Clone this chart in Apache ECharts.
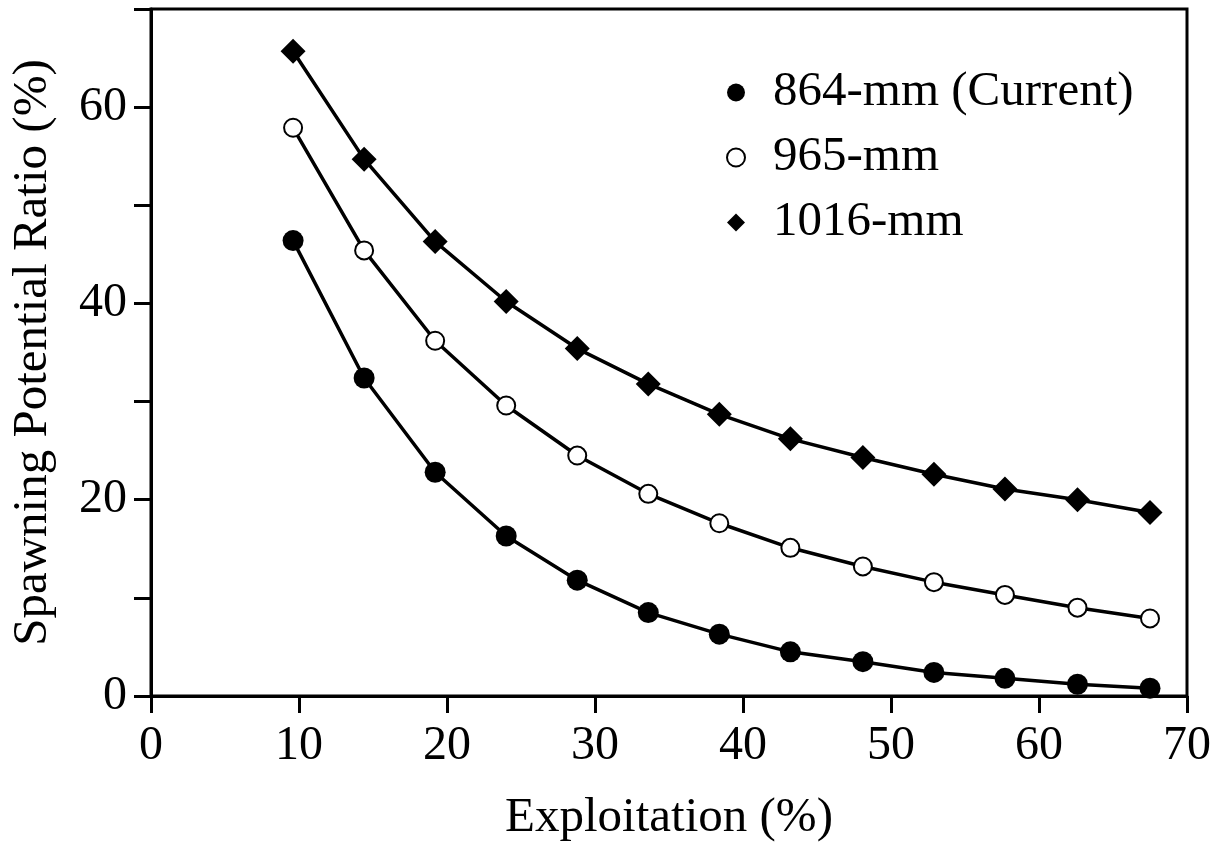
<!DOCTYPE html>
<html>
<head>
<meta charset="utf-8">
<script src="https://cdn.jsdelivr.net/npm/echarts@6/dist/echarts.min.js"></script>
<style>
	html, body { margin: 0; padding: 0; background: #fff; }
	#chart { width: 1230px; height: 856px; }
</style>
</head>
<body>
<div id="chart"></div>
<script>
	'use strict'
	var exploitation = [9.6, 14.4, 19.2, 24.0, 28.8, 33.6, 38.4, 43.2, 48.1, 52.9, 57.7, 62.6, 67.5];
	var spr864 = [46.4, 32.4, 22.8, 16.3, 11.8, 8.5, 6.3, 4.5, 3.5, 2.4, 1.8, 1.2, 0.8];
	var spr965 = [57.9, 45.4, 36.2, 29.6, 24.5, 20.6, 17.6, 15.1, 13.2, 11.6, 10.3, 9.0, 7.9];
	var spr1016 = [65.7, 54.7, 46.3, 40.2, 35.4, 31.8, 28.7, 26.2, 24.3, 22.6, 21.1, 20.0, 18.7];
	var seriesNames = ['864-mm (Current)', '965-mm', '1016-mm'];

	function pairs(ys) {
		return exploitation.map(function(x, i) { return [x, ys[i]]; });
	}

	var font = 'Liberation Serif';
	var chart = echarts.init(document.getElementById('chart'));

	/*-----Spawning potential ratio vs exploitation-----*/
	var option = {
		animation: false,
		backgroundColor: '#fff',
		grid: {
			left: 151,
			right: 43,
			top: 9,
			bottom: 160,
			show: true,
			borderColor: '#000',
			borderWidth: 3
		},
		legend: {
			orient: 'vertical',
			left: 721,
			top: 63,
			itemGap: 16,
			itemWidth: 18,
			itemHeight: 18,
			textStyle: {
				fontFamily: font,
				fontSize: 49,
				color: '#000',
				padding: [0, 0, 0, 23]
			},
			data: [
				{ name: seriesNames[0], icon: 'circle' },
				{ name: seriesNames[1], icon: 'circle' },
				{ name: seriesNames[2], icon: 'diamond' }
			]
		},
		xAxis: {
			type: 'value',
			min: 0,
			max: 70,
			interval: 10,
			name: 'Exploitation (%)',
			nameLocation: 'middle',
			nameGap: 98,
			nameTextStyle: { fontFamily: font, fontSize: 49, color: '#000' },
			axisLine: { lineStyle: { color: '#000', width: 3 } },
			axisTick: { show: true, length: 17, lineStyle: { color: '#000', width: 3 } },
			axisLabel: { fontFamily: font, fontSize: 48, color: '#000', margin: 26 },
			splitLine: { show: false }
		},
		yAxis: {
			type: 'value',
			min: 0,
			max: 70,
			interval: 10,
			name: 'Spawning Potential Ratio (%)',
			nameLocation: 'middle',
			nameGap: 93,
			nameTextStyle: { fontFamily: font, fontSize: 49, color: '#000' },
			axisLine: { lineStyle: { color: '#000', width: 3 } },
			axisTick: { show: true, length: 17, lineStyle: { color: '#000', width: 3 } },
			axisLabel: {
				fontFamily: font,
				fontSize: 48,
				color: '#000',
				margin: 24,
				formatter: function(v) { return v % 20 === 0 && v < 70 ? String(v) : ''; }
			},
			splitLine: { show: false }
		},
		series: [{
			name: seriesNames[0],
			type: 'line',
			data: pairs(spr864),
			symbol: 'circle',
			symbolSize: 21,
			itemStyle: { color: '#000' },
			lineStyle: { color: '#000', width: 3.5 }
		}, {
			name: seriesNames[1],
			type: 'line',
			data: pairs(spr965),
			symbol: 'circle',
			symbolSize: 18,
			itemStyle: { color: '#fff', borderColor: '#000', borderWidth: 2 },
			lineStyle: { color: '#000', width: 3.5 }
		}, {
			name: seriesNames[2],
			type: 'line',
			data: pairs(spr1016),
			symbol: 'diamond',
			symbolSize: [25, 25],
			itemStyle: { color: '#000' },
			lineStyle: { color: '#000', width: 3.5 }
		}]
	};
	chart.setOption(option);
</script>
</body>
</html>
